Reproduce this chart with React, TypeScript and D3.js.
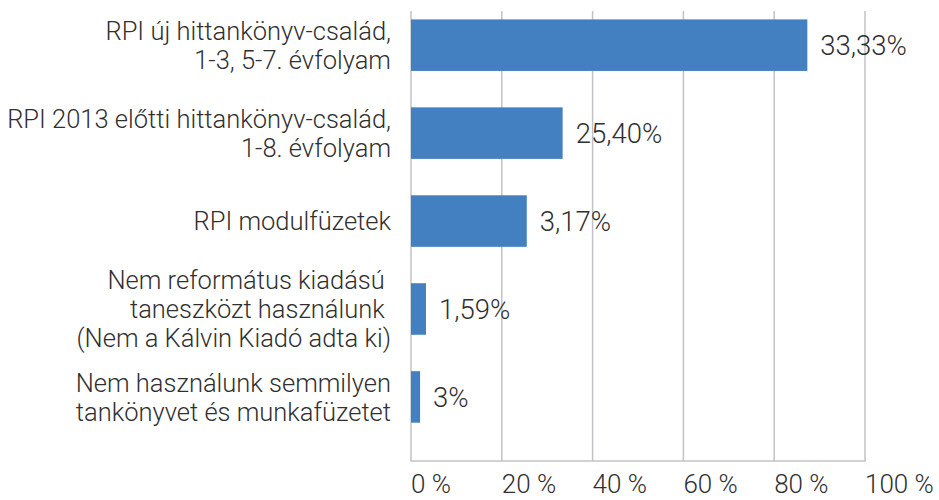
import * as d3 from 'd3';

// Chart data
const categoryLines: string[][] = [
    ['RPI új hittankönyv-család,', '1-3, 5-7. évfolyam'],
    ['RPI 2013 előtti hittankönyv-család,', '1-8. évfolyam'],
    ['RPI modulfüzetek'],
    ['Nem református kiadású ', 'taneszközt használunk ', '(Nem a Kálvin Kiadó adta ki)'],
    ['Nem használunk semmilyen', 'tankönyvet és munkafüzetet'],
];
const barValues = [87.3, 33.4, 25.5, 3.3, 2.0];
const valueLabels = ['33,33%', '25,40%', '3,17%', '1,59%', '3%'];
const xTicks = [0, 20, 40, 60, 80, 100];
const xTickLabels = ['0 %', '20 %', '40 %', '60 %', '80 %', '100 %'];

const WIDTH = 939;
const HEIGHT = 500;
const FONT = 'Roboto, "Open Sans", sans-serif';
const TEXT_COLOR = '#303030';
const BAR_COLOR = '#4280C1';
const GRID_COLOR = '#C3C3C7';

export default function App() {
    const plotTop = 11;
    const plotBottom = 461;

    const x = d3.scaleLinear().domain([0, 100]).range([411, 865]);
    const y = d3.scaleBand<number>()
        .domain(categoryLines.map((_, i) => i))
        .range([plotTop, plotBottom])
        .paddingInner(0.414)
        .paddingOuter(0.2655)
        .align(0.18);

    const lineHeight = 28.8;

    return (
        <svg
            width={WIDTH}
            height={HEIGHT}
            style={{ position: 'absolute', left: 0, top: 0, display: 'block' }}
            fontFamily={FONT}
            fontWeight={300}
        >
            <rect width={WIDTH} height={HEIGHT} fill="white" />

            {/* vertical grid lines */}
            <g stroke={GRID_COLOR} strokeWidth={1.5}>
                {xTicks.map(t => (
                    <line key={t} x1={x(t)} x2={x(t)} y1={plotTop} y2={plotBottom} />
                ))}
                <line x1={x(0) - 0.75} x2={x(100) + 0.75} y1={plotBottom} y2={plotBottom} />
            </g>

            {/* bars */}
            <g fill={BAR_COLOR}>
                {barValues.map((v, i) => (
                    <rect key={i} x={x(0)} y={y(i)} width={x(v) - x(0)} height={y.bandwidth()} />
                ))}
            </g>

            {/* value labels */}
            <g fontSize={27.5} fill={TEXT_COLOR}>
                {barValues.map((v, i) => (
                    <text key={i} x={x(v) + 13} y={(y(i) ?? 0) + y.bandwidth() / 2} dy="0.36em">
                        {valueLabels[i]}
                    </text>
                ))}
            </g>

            {/* category labels */}
            <g fontSize={25.5} fill={TEXT_COLOR} textAnchor="end" style={{ whiteSpace: 'pre' }}>
                {categoryLines.map((lines, i) => {
                    const cy = (y(i) ?? 0) + y.bandwidth() / 2;
                    return (
                        <text key={i}>
                            {lines.map((line, j) => (
                                <tspan key={j} x={391} y={cy + (j - (lines.length - 1) / 2) * lineHeight} dy="0.36em">
                                    {line}
                                </tspan>
                            ))}
                        </text>
                    );
                })}
            </g>

            {/* x axis tick labels */}
            <g fontSize={26} fill={TEXT_COLOR}>
                {xTicks.map((t, i) => (
                    <text key={t} x={x(t)} y={493}>
                        {xTickLabels[i]}
                    </text>
                ))}
            </g>
        </svg>
    );
}
